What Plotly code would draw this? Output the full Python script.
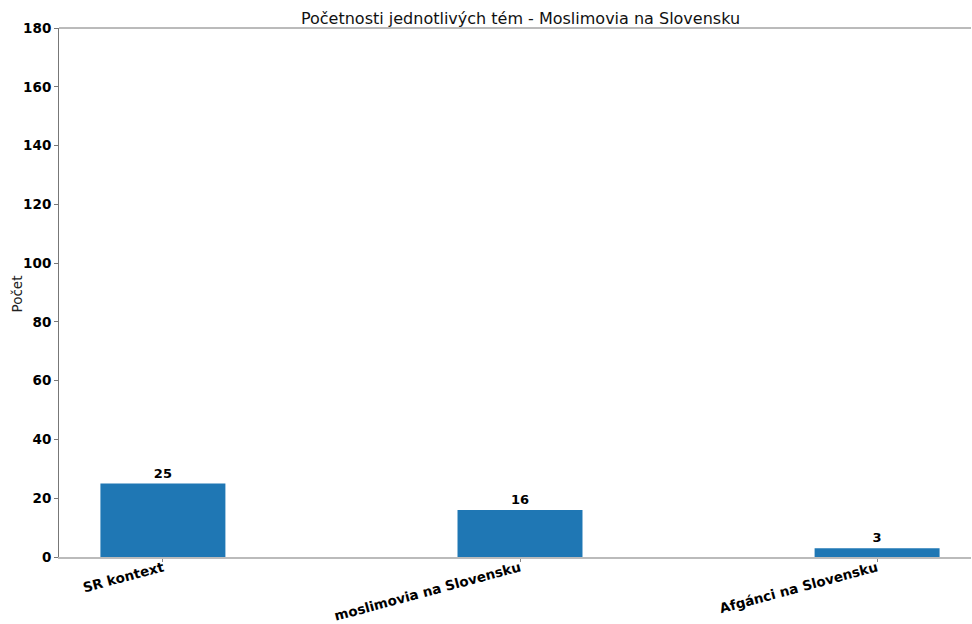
import plotly.graph_objects as go

categories = ["SR kontext", "moslimovia na Slovensku", "Afgánci na Slovensku"]
counts = [25, 16, 3]
y_ticks = [0, 20, 40, 60, 80, 100, 120, 140, 160, 180]

x_pos = list(range(len(categories)))

fig = go.Figure()
fig.add_trace(go.Bar(
    x=x_pos, y=counts, width=0.35,
    marker=dict(color="#1f77b4", line=dict(width=0)),
    text=[str(c) for c in counts], textposition="outside",
    textfont=dict(family="DejaVu Sans", size=13, color="black", weight="bold"),
    cliponaxis=False,
))

fig.update_layout(
    width=972, height=624,
    margin=dict(l=59, r=1, t=28, b=67, autoexpand=False),
    paper_bgcolor="white", plot_bgcolor="white",
    title=dict(text="Početnosti jednotlivých tém - Moslimovia na Slovensku",
               x=0.5355, xanchor="center", y=0.971, yanchor="middle",
               font=dict(family="DejaVu Sans", size=16, color="#111")),
    showlegend=False,
    xaxis=dict(
        range=[-0.291, 2.263], tickmode="array", tickvals=x_pos, ticktext=categories,
        tickangle=-15, ticks="outside", ticklen=3, tickcolor="#888",
        ticklabelstandoff=-7,
        tickfont=dict(family="DejaVu Sans", size=13.5, color="black", weight="bold"),
        showgrid=False, zeroline=False, automargin=False,
        showline=True, linecolor="#bbbbbb", linewidth=2,
    ),
    yaxis=dict(
        range=[0, 180], tickmode="array", tickvals=y_ticks,
        ticks="outside", ticklen=4, tickcolor="#777",
        tickfont=dict(family="DejaVu Sans", size=13.5, color="black", weight="bold"),
        showgrid=False, zeroline=False, automargin=False,
        showline=True, linecolor="#777777", linewidth=1,
    ),
    annotations=[dict(text="Počet", xref="paper", yref="paper", x=0, y=0.5,
                      xanchor="center", yanchor="middle", xshift=-43, yshift=-2,
                      textangle=-90, showarrow=False,
                      font=dict(family="DejaVu Sans", size=13.5, color="#222"))],
    shapes=[dict(type="line", xref="paper", yref="paper", x0=0, x1=1, y0=1, y1=1,
                 line=dict(color="#777777", width=1))],
)

fig.write_html("out.html", config={"displayModeBar": False},
               post_script="document.body.style.margin='0';document.body.style.overflow='hidden';")
